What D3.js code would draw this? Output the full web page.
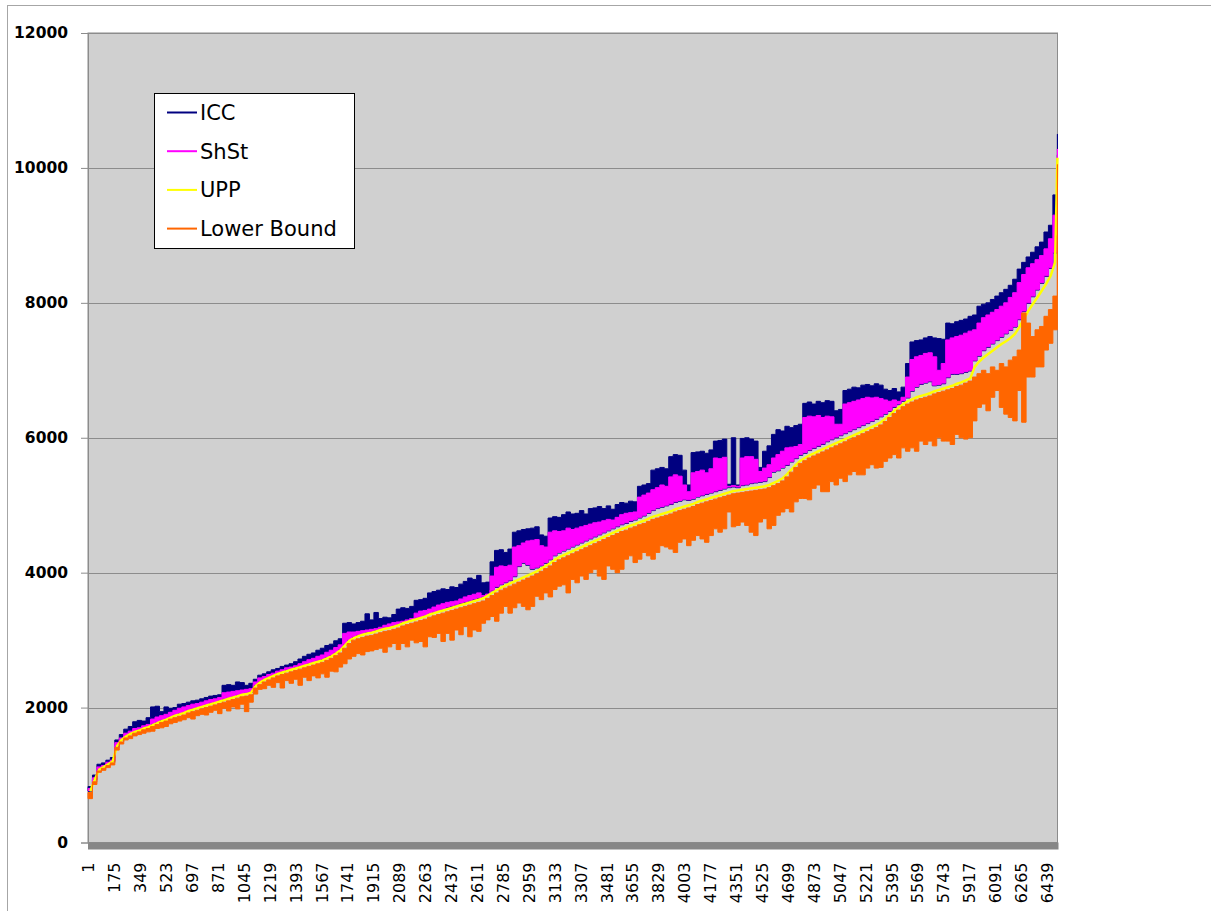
<!DOCTYPE html>
<html>
<head>
<meta charset="utf-8">
<script src="https://cdn.jsdelivr.net/npm/d3@7"></script>
<style>
  body { margin: 0; background: #fff; }
</style>
</head>
<body>
<div id="chart"></div>
<script>
// ~6500 categories are far too dense to read one by one, so each series is
// read off the picture as its highest and lowest value in blocks of 30 categories
var blockSize = 30;
var nCategories = 6511;

var seriesNames = ["ICC", "ShSt", "UPP", "Lower Bound"];
var seriesColors = ["#000080", "#ff00ff", "#ffff00", "#ff6600"];

var yTicks = [0, 2000, 4000, 6000, 8000, 10000, 12000];
var xTicks = d3.range(1, nCategories + 1, 174); // 1, 175, 349 ... 6439

var iccMax = [
  830, 1000, 1160, 1180, 1220, 1260, 1520, 1600, 1680, 1720,
  1790, 1810, 1800, 1850, 2010, 2020, 1940, 2010, 1990, 2000,
  2050, 2060, 2080, 2100, 2110, 2130, 2150, 2170, 2180, 2190,
  2330, 2340, 2330, 2380, 2370, 2330, 2360, 2420, 2480, 2500,
  2530, 2560, 2580, 2610, 2630, 2650, 2680, 2720, 2760, 2790,
  2810, 2850, 2880, 2920, 2940, 2990, 3020, 3250, 3260, 3240,
  3260, 3280, 3390, 3300, 3410, 3320, 3340, 3330, 3380, 3460,
  3480, 3470, 3500, 3590, 3600, 3620, 3700, 3720, 3740, 3760,
  3750, 3790, 3780, 3830, 3870, 3920, 3900, 3960, 3850, 3860,
  4160, 4330, 4340, 4300, 4350, 4600, 4620, 4640, 4650, 4660,
  4680, 4560, 4540, 4810, 4830, 4820, 4860, 4900, 4870, 4880,
  4920, 4870, 4950, 4960, 4980, 4950, 4990, 4940, 5010, 5040,
  5030, 5060, 5050, 5280, 5300, 5320, 5520, 5540, 5560, 5540,
  5720, 5750, 5740, 5520, 5300, 5780, 5790, 5800, 5770, 5820,
  5950, 5960, 5980, 5310, 6000, 5300, 5990, 6000, 5980, 5950,
  5560, 5800, 5880, 6050, 6120, 6100, 6170, 6150, 6180, 6200,
  6510, 6530, 6500, 6540, 6520, 6550, 6540, 6400, 6420, 6700,
  6720, 6750, 6740, 6780, 6790, 6770, 6800, 6780, 6720, 6700,
  6730, 6680, 6750, 7100, 7420, 7440, 7450, 7480, 7500, 7480,
  7470, 7460, 7700, 7690, 7720, 7740, 7760, 7800, 7820, 7950,
  7980, 8000, 8050, 8100, 8150, 8200, 8260, 8350, 8500, 8600,
  8680, 8750, 8830, 8900, 9050, 9150, 9600, 10500
];
var iccMin = [
  760, 930, 1080, 1120, 1160, 1200, 1430, 1520, 1570, 1610,
  1640, 1660, 1690, 1710, 1750, 1780, 1810, 1830, 1860, 1890,
  1910, 1930, 1960, 1980, 2000, 2020, 2040, 2060, 2080, 2100,
  2120, 2140, 2160, 2180, 2200, 2210, 2230, 2330, 2380, 2420,
  2450, 2480, 2510, 2530, 2550, 2570, 2590, 2610, 2630, 2650,
  2670, 2690, 2710, 2740, 2770, 2810, 2860, 2930, 3000, 3040,
  3070, 3090, 3110, 3120, 3140, 3160, 3180, 3190, 3210, 3230,
  3260, 3280, 3300, 3320, 3340, 3360, 3390, 3410, 3430, 3450,
  3480, 3500, 3520, 3540, 3560, 3580, 3600, 3620, 3640, 3670,
  3730, 3780, 3820, 3850, 3880, 3940, 4090, 4140, 4110, 4050,
  4070, 4100, 4140, 4190, 4250, 4290, 4320, 4350, 4380, 4410,
  4440, 4470, 4500, 4530, 4560, 4590, 4620, 4650, 4680, 4710,
  4730, 4760, 4780, 4810, 4840, 4880, 4920, 4950, 4970, 4990,
  5010, 5040, 5060, 5080, 5070, 5090, 5120, 5140, 5160, 5180,
  5200, 5220, 5240, 5260, 5270, 5260, 5290, 5300, 5320, 5330,
  5340, 5350, 5410, 5490, 5510, 5550, 5590, 5640, 5690, 5740,
  5770, 5810, 5840, 5870, 5900, 5940, 5970, 6000, 6030, 6060,
  6090, 6120, 6150, 6180, 6210, 6240, 6270, 6310, 6350, 6390,
  6450, 6490, 6540, 6590, 6690, 6750, 6790, 6810, 6830, 6770,
  6780, 6800, 6890, 6940, 6940, 6950, 6970, 6990, 7140, 7210,
  7290, 7340, 7390, 7440, 7490, 7540, 7590, 7640, 7750, 7870,
  7990, 8090, 8190, 8290, 8390, 8510, 8740, 10190
];

var shstMax = [
  800, 960, 1120, 1140, 1190, 1220, 1480, 1550, 1620, 1650,
  1690, 1700, 1730, 1750, 1830, 1860, 1880, 1900, 1930, 1960,
  1990, 2010, 2030, 2050, 2060, 2080, 2100, 2120, 2130, 2150,
  2220, 2230, 2240, 2250, 2260, 2270, 2280, 2380, 2440, 2460,
  2490, 2510, 2540, 2560, 2590, 2600, 2620, 2650, 2680, 2710,
  2730, 2760, 2780, 2820, 2850, 2890, 2930, 3100, 3120, 3120,
  3130, 3140, 3150, 3160, 3170, 3190, 3220, 3240, 3260, 3270,
  3280, 3300, 3320, 3400, 3430, 3440, 3460, 3490, 3520, 3540,
  3560, 3570, 3580, 3610, 3640, 3660, 3680, 3700, 3660, 3680,
  3950, 4080, 4100, 4090, 4110, 4380, 4400, 4440, 4470, 4480,
  4490, 4400, 4380, 4600, 4620, 4610, 4620, 4660, 4640, 4660,
  4680, 4700, 4720, 4740, 4750, 4770, 4790, 4780, 4820, 4860,
  4880, 4890, 4900, 5120, 5150, 5180, 5230, 5260, 5300, 5280,
  5420, 5450, 5430, 5300, 5200, 5480, 5500, 5520, 5480, 5540,
  5700, 5690, 5710, 5280, 5290, 5280, 5700, 5720, 5720, 5680,
  5500, 5550, 5600, 5700, 5750, 5800, 5850, 5860, 5870, 5900,
  6300, 6320, 6310, 6330, 6300, 6320, 6310, 6200, 6200, 6500,
  6520, 6540, 6560, 6580, 6600, 6590, 6600, 6580, 6560, 6540,
  6560, 6540, 6600, 6900, 7160, 7200, 7220, 7250, 7260, 7200,
  7000, 7100, 7450, 7480, 7500, 7520, 7550, 7580, 7600, 7700,
  7780, 7820, 7860, 7900, 7950, 8000, 8080, 8150, 8300, 8420,
  8520, 8580, 8640, 8700, 8800, 8950, 9300, 10280
];
var shstMin = [
  770, 940, 1090, 1130, 1170, 1210, 1440, 1530, 1580, 1620,
  1650, 1670, 1700, 1720, 1760, 1790, 1820, 1840, 1870, 1900,
  1920, 1940, 1970, 1990, 2010, 2030, 2050, 2070, 2090, 2110,
  2130, 2150, 2170, 2190, 2210, 2220, 2240, 2340, 2390, 2430,
  2460, 2490, 2520, 2540, 2560, 2580, 2600, 2620, 2640, 2660,
  2680, 2700, 2720, 2750, 2780, 2820, 2870, 2940, 3010, 3050,
  3080, 3100, 3120, 3130, 3150, 3170, 3190, 3200, 3220, 3240,
  3270, 3290, 3310, 3330, 3350, 3370, 3400, 3420, 3440, 3460,
  3490, 3510, 3530, 3550, 3570, 3590, 3610, 3630, 3650, 3680,
  3740, 3790, 3830, 3860, 3890, 3950, 4100, 4150, 4120, 4060,
  4080, 4110, 4150, 4200, 4260, 4300, 4330, 4360, 4390, 4420,
  4450, 4480, 4510, 4540, 4570, 4600, 4630, 4660, 4690, 4720,
  4740, 4770, 4790, 4820, 4850, 4890, 4930, 4960, 4980, 5000,
  5020, 5050, 5070, 5090, 5080, 5100, 5130, 5150, 5170, 5190,
  5210, 5230, 5250, 5270, 5280, 5270, 5300, 5310, 5330, 5340,
  5350, 5360, 5420, 5500, 5520, 5560, 5600, 5650, 5700, 5750,
  5780, 5820, 5850, 5880, 5910, 5950, 5980, 6010, 6040, 6070,
  6100, 6130, 6160, 6190, 6220, 6250, 6280, 6320, 6360, 6400,
  6460, 6500, 6550, 6600, 6700, 6760, 6800, 6820, 6840, 6780,
  6790, 6810, 6900, 6950, 6950, 6960, 6980, 7000, 7150, 7220,
  7300, 7350, 7400, 7450, 7500, 7550, 7600, 7650, 7760, 7880,
  8000, 8100, 8200, 8300, 8400, 8520, 8750, 10200
];

// UPP is a smooth curve, one value per block
var upp = [
  760, 930, 1080, 1120, 1160, 1200, 1430, 1520, 1570, 1610,
  1640, 1660, 1690, 1710, 1740, 1770, 1800, 1820, 1850, 1880,
  1900, 1920, 1950, 1970, 1990, 2010, 2030, 2050, 2070, 2090,
  2110, 2130, 2150, 2170, 2190, 2200, 2220, 2320, 2370, 2410,
  2440, 2470, 2500, 2520, 2540, 2560, 2580, 2600, 2620, 2640,
  2660, 2680, 2700, 2730, 2760, 2800, 2850, 2920, 2990, 3030,
  3060, 3080, 3100, 3110, 3130, 3150, 3170, 3180, 3200, 3220,
  3250, 3270, 3290, 3310, 3330, 3350, 3380, 3400, 3420, 3440,
  3460, 3480, 3500, 3520, 3540, 3560, 3580, 3600, 3620, 3660,
  3700, 3740, 3780, 3810, 3840, 3870, 3900, 3930, 3960, 3990,
  4020, 4060, 4100, 4140, 4190, 4230, 4260, 4290, 4320, 4350,
  4380, 4410, 4440, 4470, 4500, 4530, 4560, 4590, 4620, 4650,
  4670, 4700, 4720, 4750, 4770, 4800, 4830, 4850, 4870, 4890,
  4910, 4940, 4960, 4980, 5000, 5020, 5050, 5070, 5090, 5110,
  5130, 5150, 5170, 5190, 5210, 5220, 5230, 5240, 5250, 5260,
  5270, 5280, 5300, 5330, 5360, 5400, 5460, 5530, 5600, 5660,
  5700, 5740, 5770, 5800, 5830, 5860, 5890, 5920, 5950, 5980,
  6010, 6040, 6070, 6100, 6130, 6160, 6190, 6230, 6280, 6340,
  6400, 6450, 6500, 6540, 6570, 6600, 6620, 6640, 6660, 6690,
  6710, 6730, 6750, 6770, 6800, 6820, 6850, 6880, 7050, 7130,
  7190, 7240, 7290, 7340, 7390, 7430, 7480, 7540, 7640, 7760,
  7880, 7980, 8080, 8180, 8280, 8400, 8600, 10150
];

var lowerMax = [
  740, 900, 1060, 1100, 1140, 1180, 1410, 1490, 1550, 1580,
  1620, 1640, 1670, 1690, 1720, 1750, 1780, 1800, 1830, 1850,
  1870, 1890, 1920, 1940, 1960, 1980, 2000, 2020, 2040, 2060,
  2080, 2100, 2120, 2140, 2160, 2170, 2190, 2290, 2340, 2380,
  2410, 2440, 2470, 2490, 2510, 2530, 2550, 2570, 2590, 2610,
  2630, 2650, 2670, 2700, 2730, 2770, 2810, 2880, 2950, 3000,
  3020, 3040, 3060, 3070, 3090, 3110, 3130, 3140, 3160, 3180,
  3210, 3230, 3250, 3270, 3290, 3310, 3340, 3360, 3380, 3400,
  3420, 3440, 3460, 3480, 3500, 3520, 3540, 3560, 3580, 3620,
  3660, 3700, 3740, 3770, 3800, 3830, 3860, 3890, 3920, 3950,
  3980, 4020, 4060, 4100, 4150, 4190, 4220, 4250, 4280, 4310,
  4340, 4370, 4400, 4430, 4460, 4490, 4520, 4550, 4580, 4610,
  4630, 4660, 4680, 4710, 4730, 4760, 4790, 4810, 4830, 4850,
  4870, 4900, 4920, 4940, 4960, 4980, 5010, 5030, 5050, 5070,
  5090, 5110, 5130, 5150, 5170, 5180, 5190, 5200, 5210, 5220,
  5230, 5240, 5260, 5290, 5320, 5360, 5420, 5490, 5560, 5620,
  5660, 5700, 5730, 5760, 5790, 5820, 5850, 5880, 5910, 5940,
  5970, 6000, 6030, 6060, 6090, 6120, 6150, 6190, 6240, 6300,
  6360, 6410, 6460, 6500, 6530, 6560, 6580, 6600, 6620, 6650,
  6670, 6690, 6710, 6730, 6760, 6780, 6810, 6840, 6900, 6950,
  7000, 6950, 7050, 7000, 7100, 7050, 7150, 7200, 7300, 7850,
  7700, 7500, 7600, 7650, 7800, 7900, 8100, 10050
];
var lowerMin = [
  650, 860, 1040, 1070, 1110, 1150, 1370, 1460, 1520, 1540,
  1580, 1600, 1620, 1640, 1650, 1690, 1700, 1720, 1760, 1780,
  1800, 1820, 1850, 1830, 1880, 1900, 1890, 1930, 1960, 1910,
  1990, 1950, 2010, 1980, 2050, 1940, 2080, 2200, 2270, 2280,
  2330, 2300, 2370, 2290, 2400, 2360, 2420, 2330, 2450, 2400,
  2470, 2440, 2500, 2450, 2540, 2530, 2600, 2650, 2720, 2760,
  2800, 2780, 2830, 2840, 2860, 2880, 2820, 2900, 2950, 2860,
  2950, 2900, 3000, 2960, 2980, 2900, 3050, 3040, 3100, 2980,
  3100, 3000, 3150, 3080, 3200, 3050, 3150, 3130, 3250, 3300,
  3350, 3280, 3400, 3500, 3400, 3480, 3550, 3500, 3450, 3500,
  3650, 3600, 3700, 3640, 3750, 3800, 3820, 3700, 3900, 3850,
  3950, 3900, 4000, 4050, 3950, 3900, 4100, 4050, 4000, 4050,
  4200, 4250, 4150, 4200, 4300, 4250, 4200, 4300, 4400, 4380,
  4350, 4300, 4450, 4500, 4400, 4480, 4550, 4500, 4450, 4550,
  4650, 4600, 4650, 4900, 4680, 4700, 4750, 4700, 4600, 4550,
  4750, 4800, 4650, 4700, 4850, 4900, 4950, 4900, 5050, 5100,
  5100, 5080, 5250, 5300, 5200, 5200, 5350, 5300, 5400, 5350,
  5450, 5500, 5450, 5450, 5550, 5600, 5550, 5560, 5650, 5700,
  5750, 5700, 5850, 5800, 5850, 5800, 5950, 5900, 5950, 5880,
  6000, 5950, 5950, 5900, 6050, 6000, 5980, 6000, 6250, 6450,
  6500, 6400, 6600, 6700, 6450, 6350, 6300, 6250, 6700, 6230,
  6900, 6900, 7050, 7050, 7300, 7400, 7600, 9000
];

var width = 1211, height = 911;
var plot = { left: 88, top: 33, right: 1057.5, bottom: 842.5 };

var svg = d3.select("#chart").append("svg")
    .attr("width", width)
    .attr("height", height);

// outer chart frame (only its top and left edges fall inside the picture)
svg.append("rect")
    .attr("x", 7.5).attr("y", 5.5)
    .attr("width", 1400).attr("height", 1200)
    .attr("fill", "none")
    .attr("stroke", "#a6a6a6");

var x = d3.scaleLinear().domain([0.5, nCategories + 0.5]).range([plot.left, plot.right]);
var y = d3.scaleLinear().domain([0, 12000]).range([plot.bottom, plot.top]);

// plot area
svg.append("rect")
    .attr("x", plot.left).attr("y", plot.top)
    .attr("width", plot.right - plot.left)
    .attr("height", plot.bottom - plot.top)
    .attr("fill", "#d0d0d0")
    .attr("stroke", "#8c8c8c");

// gridlines
svg.append("g").selectAll("line")
    .data(yTicks.slice(1))
    .enter().append("line")
    .attr("x1", plot.left).attr("x2", plot.right)
    .attr("y1", function(d) { return Math.round(y(d)) + 0.5; })
    .attr("y2", function(d) { return Math.round(y(d)) + 0.5; })
    .attr("stroke", "#8c8c8c");

// grey "floor" under the series
svg.append("rect")
    .attr("x", plot.left).attr("y", plot.bottom)
    .attr("width", plot.right - plot.left + 1)
    .attr("height", 7)
    .attr("fill", "#878787");

// y axis
var yAxis = svg.append("g")
    .attr("transform", "translate(" + plot.left + ",0)")
    .call(d3.axisLeft(y).tickValues(yTicks).tickSize(7).tickPadding(13).tickFormat(d3.format("d")));
yAxis.select(".domain").attr("stroke", "#8c8c8c");
yAxis.selectAll(".tick line").attr("stroke", "#8c8c8c");
yAxis.selectAll("text")
    .attr("fill", "#000")
    .style("font-family", "'DejaVu Sans', sans-serif")
    .style("font-size", "15.5px")
    .style("font-weight", "bold");

// x axis, labels on their side
var xAxis = svg.append("g")
    .attr("transform", "translate(0," + (plot.bottom + 7) + ")")
    .call(d3.axisBottom(x).tickValues(xTicks).tickSize(0).tickFormat(d3.format("d")));
xAxis.select(".domain").remove();
xAxis.selectAll("text")
    .attr("transform", "rotate(-90)")
    .attr("x", -13)
    .attr("y", 0)
    .attr("dy", "0.36em")
    .attr("text-anchor", "end")
    .attr("fill", "#000")
    .style("font-family", "'DejaVu Sans', sans-serif")
    .style("font-size", "16px");

// each block covers categories [first, last]
function blockStart(k) { return 1 + k * blockSize; }
function blockEnd(k) { return Math.min((k + 1) * blockSize, nCategories); }

// a dense series looks like a band: in each block it fills from its min to its max
function bandPoints(maxArr, minArr) {
  var pts = [];
  maxArr.forEach(function(v, k) {
    pts.push({ x: x(blockStart(k) - 0.5), hi: v, lo: minArr[k] });
    pts.push({ x: x(blockEnd(k) + 0.5), hi: v, lo: minArr[k] });
  });
  return pts;
}

var band = d3.area()
    .x(function(d) { return d.x; })
    .y0(function(d) { return y(d.lo); })
    .y1(function(d) { return y(d.hi); });

var uppLine = d3.line()
    .x(function(d, k) { return x((blockStart(k) + blockEnd(k)) / 2); })
    .y(function(d) { return y(d); });

var series = svg.append("g");

// drawn in the workbook's order, so Lower Bound ends up on top
series.append("path")
    .attr("d", band(bandPoints(iccMax, iccMin)))
    .attr("fill", seriesColors[0])
    .attr("stroke", seriesColors[0])
    .attr("stroke-width", 1);

series.append("path")
    .attr("d", band(bandPoints(shstMax, shstMin)))
    .attr("fill", seriesColors[1])
    .attr("stroke", seriesColors[1])
    .attr("stroke-width", 1);

series.append("path")
    .attr("d", uppLine(upp))
    .attr("fill", "none")
    .attr("stroke", seriesColors[2])
    .attr("stroke-width", 2.5);

series.append("path")
    .attr("d", band(bandPoints(lowerMax, lowerMin)))
    .attr("fill", seriesColors[3])
    .attr("stroke", seriesColors[3])
    .attr("stroke-width", 1);

// legend
var legend = svg.append("g");
legend.append("rect")
    .attr("x", 154.5).attr("y", 93.5)
    .attr("width", 200).attr("height", 155)
    .attr("fill", "#fff")
    .attr("stroke", "#000");

var items = legend.selectAll("g.item")
    .data(seriesNames)
    .enter().append("g")
    .attr("class", "item")
    .attr("transform", function(d, i) { return "translate(0," + (112.5 + i * 38.7) + ")"; });

items.append("line")
    .attr("x1", 167).attr("x2", 197)
    .attr("y1", 0).attr("y2", 0)
    .attr("stroke", function(d, i) { return seriesColors[i]; })
    .attr("stroke-width", 2);

items.append("text")
    .attr("x", 200)
    .attr("y", 7.5)
    .text(function(d) { return d; })
    .style("font-family", "'DejaVu Sans', sans-serif")
    .style("font-size", "21px")
    .attr("fill", "#000");
</script>
</body>
</html>
